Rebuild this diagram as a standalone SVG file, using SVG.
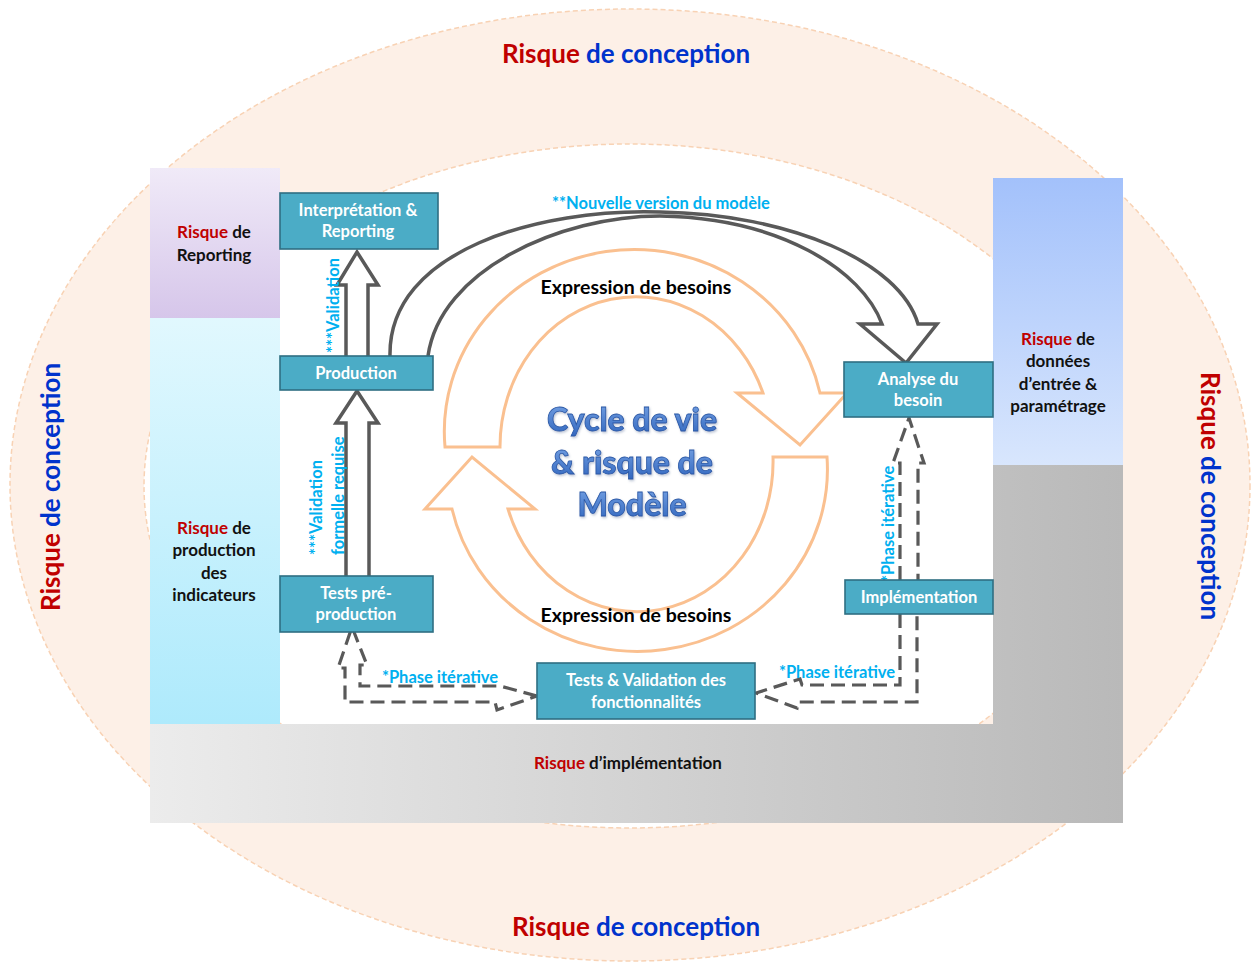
<svg xmlns="http://www.w3.org/2000/svg" width="1257" height="962" viewBox="0 0 1257 962">
  <defs>
    <linearGradient id="gLav" x1="0" y1="0" x2="0" y2="1">
      <stop offset="0" stop-color="#f0eaf8"/>
      <stop offset="1" stop-color="#d6c6ea"/>
    </linearGradient>
    <linearGradient id="gCyan" x1="0" y1="0" x2="0" y2="1">
      <stop offset="0" stop-color="#e1f8fe"/>
      <stop offset="1" stop-color="#aeeafc"/>
    </linearGradient>
    <linearGradient id="gBlue" x1="0" y1="0" x2="0" y2="1">
      <stop offset="0" stop-color="#a3c1fb"/>
      <stop offset="1" stop-color="#d8e6fd"/>
    </linearGradient>
    <linearGradient id="gGray" gradientUnits="userSpaceOnUse" x1="150" y1="0" x2="1123" y2="0">
      <stop offset="0" stop-color="#ececec"/>
      <stop offset="1" stop-color="#b9b9b9"/>
    </linearGradient>
    <linearGradient id="gTitle" x1="0" y1="0" x2="0" y2="1">
      <stop offset="0" stop-color="#7aa6e6"/>
      <stop offset="1" stop-color="#2f64bd"/>
    </linearGradient>
    <filter id="soft" x="-10%" y="-10%" width="120%" height="130%">
      <feDropShadow dx="1" dy="1.5" stdDeviation="1" flood-color="#6b7fa0" flood-opacity="0.45"/>
    </filter>
  </defs>
  <style>
    .ring { fill: #fdf0e7; stroke: #f8d2b4; stroke-width: 1.5; stroke-dasharray: 5 3; }
    .hole { fill: #ffffff; stroke: #f8d2b4; stroke-width: 1.5; stroke-dasharray: 5 3; }
    .node rect { fill: #4bacc6; stroke: #2f6f82; stroke-width: 1.6; }
    .node text { font-family: Lato, "Open Sans", sans-serif; font-weight: 700; font-size: 16.5px; fill: #ffffff; text-anchor: middle; }
    .risk { font-family: Lato, "Open Sans", sans-serif; font-weight: 700; font-size: 17px; fill: #111111; text-anchor: middle; }
    .red { fill: #c00000; }
    .blue { fill: #0033cc; }
    .big { font-family: Lato, "Open Sans", sans-serif; font-weight: 700; font-size: 26px; text-anchor: middle; }
    .note { font-family: Lato, "Open Sans", sans-serif; font-weight: 700; font-size: 16.5px; fill: #00b0f0; }
    .expr { font-family: Lato, "Open Sans", sans-serif; font-weight: 700; font-size: 19.5px; fill: #000000; text-anchor: middle; }
    .cycle { fill: #ffffff; stroke: #fac090; stroke-width: 3; stroke-linejoin: miter; }
    .solid { fill: #ffffff; stroke: #595959; stroke-width: 3.5; stroke-linejoin: miter; }
    .dash { fill: none; stroke: #595959; stroke-width: 3.2; stroke-dasharray: 14 7; stroke-linejoin: miter; }
    .title { font-family: Lato, "Open Sans", sans-serif; font-weight: 900; font-size: 32px; fill: url(#gTitle); stroke: #2a58a6; stroke-width: 0.8; text-anchor: middle; }
  </style>

  <!-- outer design-risk band -->
  <g id="band">
    <ellipse class="ring" cx="630" cy="485" rx="620" ry="476"/>
    <ellipse class="hole" cx="630" cy="486" rx="486" ry="342"/>
  </g>

  <!-- risk zones -->
  <g id="zone-reporting">
    <rect x="150" y="168" width="130" height="150" fill="url(#gLav)"/>
    <text class="risk" x="214" y="238"><tspan class="red">Risque</tspan> de</text>
    <text class="risk" x="214" y="261">Reporting</text>
  </g>
  <g id="zone-production">
    <rect x="150" y="318" width="130" height="406" fill="url(#gCyan)"/>
    <text class="risk" x="214" y="534"><tspan class="red">Risque</tspan> de</text>
    <text class="risk" x="214" y="556">production</text>
    <text class="risk" x="214" y="579">des</text>
    <text class="risk" x="214" y="601">indicateurs</text>
  </g>
  <g id="zone-donnees">
    <rect x="993" y="178" width="130" height="287" fill="url(#gBlue)"/>
    <text class="risk" x="1058" y="345"><tspan class="red">Risque</tspan> de</text>
    <text class="risk" x="1058" y="367">données</text>
    <text class="risk" x="1058" y="390">d’entrée &amp;</text>
    <text class="risk" x="1058" y="412">paramétrage</text>
  </g>
  <g id="zone-implementation">
    <path d="M 993 465 L 1123 465 L 1123 823 L 150 823 L 150 724 L 993 724 Z" fill="url(#gGray)"/>
    <text class="risk" x="628" y="769"><tspan class="red">Risque</tspan> d’implémentation</text>
  </g>

  <!-- design-risk labels around the band -->
  <g id="labels-conception">
    <text class="big" x="626" y="63"><tspan class="red">Risque</tspan><tspan class="blue"> de conception</tspan></text>
    <text class="big" x="636" y="936"><tspan class="red">Risque</tspan><tspan class="blue"> de conception</tspan></text>
    <text class="big" transform="translate(60 487) rotate(-90)"><tspan class="red">Risque</tspan><tspan class="blue"> de conception</tspan></text>
    <text class="big" transform="translate(1201 496) rotate(90)"><tspan class="red">Risque</tspan><tspan class="blue"> de conception</tspan></text>
  </g>

  <!-- central life-cycle -->
  <g id="cycle">
    <path class="cycle" d="M 445 447 A 190 182 0 0 1 820 393 L 847 393 L 800 445 L 737 393 L 763 393 A 136 150 0 0 0 500 447 Z"/>
    <path class="cycle" d="M 827 457 A 190 182 0 0 1 452 509 L 425 509 L 472 457 L 535 509 L 508 509 A 136 150 0 0 0 773 457 Z"/>
    <text class="expr" x="636" y="294">Expression de besoins</text>
    <text class="expr" x="636" y="622">Expression de besoins</text>
    <g filter="url(#soft)">
      <text class="title" x="632" y="431">Cycle de vie</text>
      <text class="title" x="632" y="474">&amp; risque de</text>
      <text class="title" x="632" y="516">Modèle</text>
    </g>
  </g>

  <!-- connectors -->
  <g id="connectors">
    <path class="solid" d="M 390 356 C 388 250, 540 208, 660 212 C 790 214, 900 262, 918 324 L 937 324 L 906 363 L 860 324 L 882 324 C 862 270, 780 218, 660 216 C 560 216, 440 270, 428 356"/>
    <path class="solid" d="M 346 356 L 346 285 L 337 285 L 357 252 L 378 285 L 368 285 L 368 356"/>
    <path class="solid" d="M 346 576 L 346 423 L 336 423 L 357 391 L 378 423 L 369 423 L 369 576"/>
    <path class="dash" d="M 900 580 L 900 463 L 893 463 L 909 418 L 924 463 L 918 463 L 918 580"/>
    <path class="dash" d="M 900 614 L 900 685 L 802 685 L 800 679 L 756 693 L 797 708 L 798 702 L 917 702 L 917 614"/>
    <path class="dash" d="M 537 696 L 500 686 L 360 686 L 360 665 L 367 665 L 352 627 L 338 668 L 345 668 L 345 702 L 495 702 L 497 710 L 537 696"/>
    <text class="note" x="661" y="209" text-anchor="middle">**Nouvelle version du modèle</text>
    <text class="note" transform="translate(339 353) rotate(-90)">***Validation</text>
    <text class="note" transform="translate(322 555) rotate(-90)">***Validation</text>
    <text class="note" transform="translate(344 555) rotate(-90)">formelle requise</text>
    <text class="note" transform="translate(894 582) rotate(-90)">*Phase itérative</text>
    <text class="note" x="440" y="683" text-anchor="middle">*Phase itérative</text>
    <text class="note" x="837" y="678" text-anchor="middle">*Phase itérative</text>
  </g>

  <!-- process steps -->
  <g id="node-interpretation" class="node">
    <rect x="280" y="193" width="158" height="56"/>
    <text x="358" y="216">Interprétation &amp;</text>
    <text x="358" y="237">Reporting</text>
  </g>
  <g id="node-production" class="node">
    <rect x="280" y="356" width="153" height="34"/>
    <text x="356" y="379">Production</text>
  </g>
  <g id="node-tests-preprod" class="node">
    <rect x="280" y="576" width="153" height="56"/>
    <text x="356" y="599">Tests pré-</text>
    <text x="356" y="620">production</text>
  </g>
  <g id="node-tests-validation" class="node">
    <rect x="537" y="663" width="218" height="56"/>
    <text x="646" y="686">Tests &amp; Validation des</text>
    <text x="646" y="708">fonctionnalités</text>
  </g>
  <g id="node-implementation" class="node">
    <rect x="845" y="580" width="148" height="34"/>
    <text x="919" y="603">Implémentation</text>
  </g>
  <g id="node-analyse" class="node">
    <rect x="844" y="362" width="149" height="55"/>
    <text x="918" y="385">Analyse du</text>
    <text x="918" y="406">besoin</text>
  </g>
</svg>
